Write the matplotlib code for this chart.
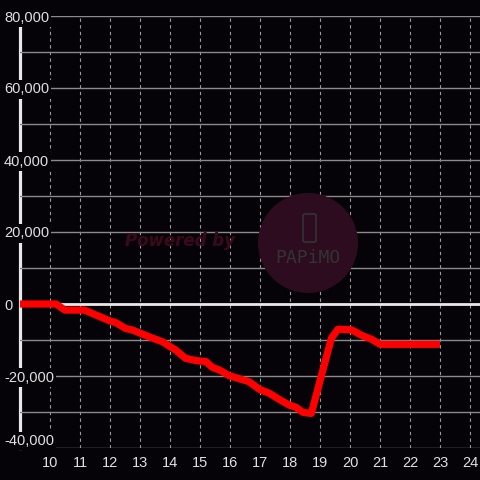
import matplotlib
matplotlib.use("Agg")
import matplotlib.pyplot as plt
from matplotlib.patches import Circle, FancyBboxPatch

hours = [9.0, 10.2, 10.5, 11.15, 11.97, 12.2, 12.52, 12.74, 13.3, 13.75, 14.19, 14.52,
         14.86, 15.2, 15.41, 15.64, 15.97, 16.64, 16.98, 17.31, 17.64, 17.98, 18.2,
         18.43, 18.71, 19.38, 19.6, 20.05, 20.44, 20.72, 21.0, 23.0]
values = [0, 0, -1700, -1700, -4600, -5200, -6800, -7200, -9100, -10500, -12800, -15100,
          -15700, -16000, -17600, -18300, -19900, -21600, -23700, -24800, -26500, -28100,
          -28700, -30100, -30400, -9500, -7000, -7200, -8900, -9800, -11200, -11200]
x_ticks = list(range(10, 25))
y_major = [-40000, -20000, 0, 20000, 40000, 60000, 80000]
y_minor = [-30000, -10000, 10000, 30000, 50000, 70000]

bg = "#050307"
fig = plt.figure(figsize=(4.8, 4.8), dpi=100, facecolor=bg)
ax = fig.add_axes([20/480, 32/480, 460/480, 432/480], facecolor=bg)

ax.set_xlim(9, 24.333)
ax.set_ylim(-40000, 80000)

# watermark
fig.patches.append(Circle((308/480, 1-243/480), 50/480, transform=fig.transFigure,
                          facecolor="#2c0c1e", edgecolor="none", zorder=0))
fig.patches.append(FancyBboxPatch((303/480, 1-242/480), 13/480, 28/480,
                                  boxstyle="round,pad=0,rounding_size=0.004",
                                  transform=fig.transFigure, facecolor="none",
                                  edgecolor="#333333", linewidth=1.2, zorder=0))
fig.text(308/480, 1-258/480, "PAPiMO", color="#333333", fontsize=13,
         family="DejaVu Sans Mono", ha="center", va="center", zorder=0)
fig.text(180/480, 1-241/480, "Powered by", color="#3a0a1c", fontsize=12,
         fontweight="bold", fontstyle="italic", family="DejaVu Sans",
         ha="center", va="center", zorder=0)
ax.patch.set_alpha(0)

ax.set_xticks(x_ticks)
ax.set_yticks(y_major)
ax.set_yticks(y_minor, minor=True)
ax.set_yticklabels([f"{v:,}" for v in y_major])

ax.grid(axis="y", which="both", color="#8a8a8a", linewidth=1, linestyle="-", zorder=0.5)
ax.grid(axis="x", which="major", color="#9a9a9a", linewidth=0.8,
        linestyle=(0, (3, 3)), zorder=0.5)
ax.set_axisbelow(True)

ax.axhline(0, color="#e8e8e8", linewidth=2, zorder=1.5)
ax.plot(hours, values, color="#ff0000", linewidth=5.2, solid_joinstyle="round",
        solid_capstyle="butt", zorder=2)

for s in ["top", "right", "bottom"]:
    ax.spines[s].set_visible(False)
ax.spines["left"].set_color("#e8e8e8")
ax.spines["left"].set_linewidth(2.3)
ax.spines["left"].set_zorder(0.4)

ax.tick_params(axis="both", which="both", length=0)
ax.tick_params(axis="y", pad=11.5, labelsize=10.5, labelcolor="#e0e0e0")
ax.tick_params(axis="x", pad=6, labelsize=10.5, labelcolor="#e0e0e0")
for lab in ax.get_yticklabels():
    lab.set_family("Liberation Sans")
    lab.set_horizontalalignment("left")
    lab.set_bbox(dict(facecolor=bg, edgecolor="none", pad=1.5))
for lab in ax.get_xticklabels():
    lab.set_family("Liberation Sans")
ylabs = ax.get_yticklabels()
ylabs[0].set_verticalalignment("bottom")

fig.savefig("out.png", dpi=100, facecolor=bg)
